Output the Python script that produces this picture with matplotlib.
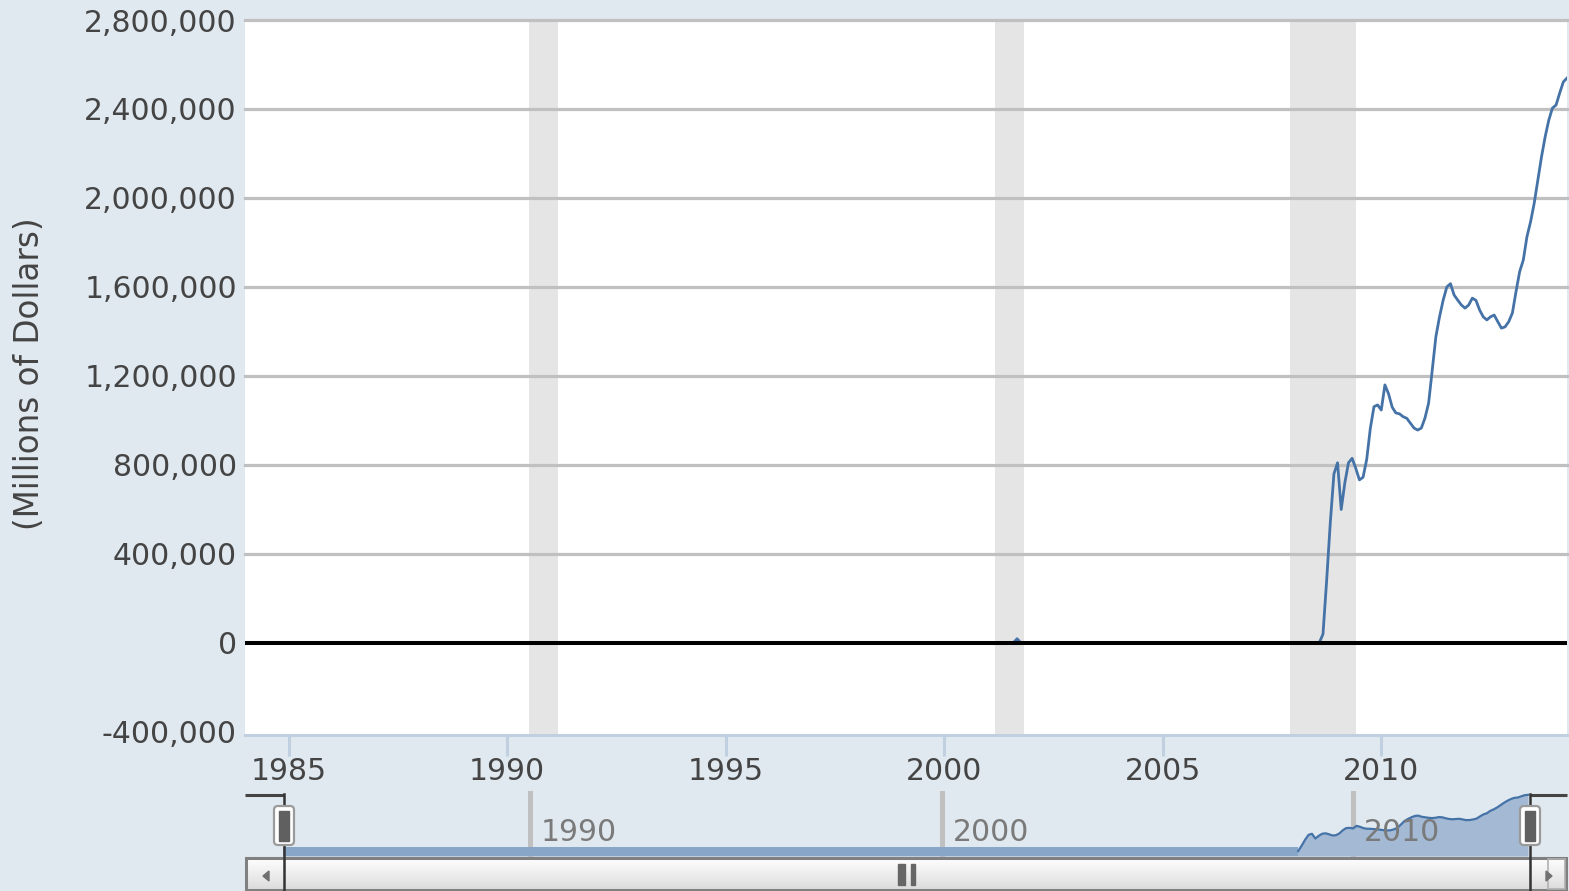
import matplotlib.pyplot as plt
import numpy as np
from matplotlib.patches import Rectangle, FancyBboxPatch, Polygon

# excess reserves, millions of dollars (monthly, first of month)
pre_dates = ['1984-01', '1985-01', '1986-01', '1987-01', '1988-01', '1989-01',
             '1990-01', '1991-01', '1992-01', '1993-01', '1994-01', '1995-01',
             '1996-01', '1997-01', '1998-01', '1999-01', '2000-01', '2001-01',
             '2001-08', '2001-09', '2001-10', '2002-01', '2003-01', '2004-01',
             '2005-01', '2006-01', '2007-01', '2008-01', '2008-08']
pre_vals = [700, 1000, 1200, 1400, 1100, 1000, 1400, 1300, 1100, 1300, 1200, 1000,
            1100, 1300, 1500, 1400, 1500, 1400, 1400, 19000, 1600, 1700, 1800, 1800,
            1600, 1700, 1700, 1800, 1900]

# Sep 2008 .. Apr 2014
crisis_start = '2008-09'
crisis_vals = [
    40000, 280000, 540000, 760000,
    810000, 600000, 720000, 810000, 830000, 785000, 733000, 745000, 825000, 965000, 1062000, 1070000,
    1047000, 1160000, 1120000, 1060000, 1034000, 1030000, 1017000, 1010000, 988000, 966000, 957000, 966000,
    1011000, 1078000, 1227000, 1377000, 1466000, 1541000, 1600000, 1615000, 1564000, 1541000, 1519000, 1505000,
    1519000, 1550000, 1540000, 1497000, 1466000, 1452000, 1466000, 1474000, 1444000, 1415000, 1421000, 1444000,
    1483000, 1579000, 1669000, 1721000, 1826000, 1893000, 1977000, 2081000, 2185000, 2275000, 2350000, 2404000,
    2418000, 2472000, 2522000, 2539000,
]

recessions = [(1990.5, 1991.167), (2001.167, 2001.833), (2007.917, 2009.417)]
year_ticks = [1985, 1990, 1995, 2000, 2005, 2010]
nav_ticks = [1990, 2000, 2010]
y_ticks = list(range(-400000, 2800001, 400000))


def dec_year(s):
    y, m = s.split('-')
    return int(y) + (int(m) - 1) / 12


cy0 = dec_year(crisis_start)
x = np.array([dec_year(d) for d in pre_dates] + [cy0 + i / 12 for i in range(len(crisis_vals))])
v = np.array(pre_vals + crisis_vals, dtype=float)

W, H = 1569, 891
BG = '#e1e9f0'
TXT = '#444444'


def box(x0, y0, x1, y1):
    return [x0 / W, 1 - y1 / H, (x1 - x0) / W, (y1 - y0) / H]


fig = plt.figure(figsize=(W / 100, H / 100), dpi=100)
fig.patch.set_facecolor(BG)

# MAIN PLOT
ax = fig.add_axes(box(245, 20, 1567, 735))
ax.set_facecolor('white')
ax.set_xlim(1984, 2014.25)
ax.set_ylim(-413500, 2800000)
for s in ['top', 'left', 'right']:
    ax.spines[s].set_visible(False)
ax.spines['bottom'].set_color('#c0d0e0')
ax.spines['bottom'].set_linewidth(2.2)

for a, b in recessions:
    ax.axvspan(a, b, color='#e5e5e5', lw=0, zorder=0)
for t in y_ticks:
    if t > -400000 and t != 0:
        ax.axhline(t, color='#c0c0c0', lw=2.3, zorder=1, clip_on=False)
ax.plot(x, v, color='#4572a7', lw=2.0, zorder=3)
ax.axhline(0, color='black', lw=2.9, zorder=4)

ax.set_yticks(y_ticks)
ax.set_yticklabels(['{:,}'.format(t) for t in y_ticks])
ax.set_xticks(year_ticks)
ax.set_xticklabels([str(t) for t in year_ticks])
ax.tick_params(axis='y', length=0, pad=5.8, labelsize=21.5, labelcolor=TXT)
ax.tick_params(axis='x', length=15, width=2.2, color='#c0d0e0', pad=1,
               labelsize=21.5, labelcolor=TXT)

fig.text(30 / W, 1 - 374 / H, '(Millions of Dollars)', rotation=90,
         ha='center', va='center', fontsize=23.5, color=TXT)

# NAVIGATOR
nav = fig.add_axes(box(245, 793, 1566, 856))
nav.set_facecolor('none')
nav.set_xlim(1983.077, 2015.173)
nav_lo = -178000
nav.set_ylim(nav_lo, 2620000)
nav.axis('off')
for t in nav_ticks:
    nav.axvline(t, ymin=-0.05, ymax=1, color='#c0c0c0', lw=3.6, zorder=1, clip_on=False)
nav.fill_between(x, nav_lo, v, color='#a4bad4', lw=0, zorder=2)
nav.fill_between(x, nav_lo, 222000, where=v < 50000, color='#88a6c8', lw=0, zorder=2)
keep = v >= 50000
keep[:-1] |= keep[1:]
nav.plot(x, np.where(keep, v, np.nan), color='#4572a7', lw=1.6, zorder=3)
for t in nav_ticks:
    nav.annotate(str(t), xy=(t, 0.38), xycoords=('data', 'axes fraction'),
                 xytext=(7.9, 0), textcoords='offset points', ha='left', va='center',
                 fontsize=21.5, color='#7a7a7a', zorder=4)

# SCROLLBAR AND HANDLES (pixel overlay)
ui = fig.add_axes([0, 0, 1, 1])
ui.set_xlim(0, W)
ui.set_ylim(H, 0)
ui.axis('off')
ui.patch.set_alpha(0)

grad = np.linspace(1.0, 0.86, 40).reshape(-1, 1)
ui.imshow(grad, cmap='gray', vmin=0, vmax=1, extent=(245, 1567, 890, 857),
          aspect='auto', zorder=1)
ui.add_patch(Rectangle((246, 857.5), 1320, 32, fill=False, ec='#808080', lw=2.2, zorder=2))
ui.add_patch(Rectangle((1548, 859), 17, 30, fill=False, ec='#b0b0b0', lw=1.2, zorder=2))
ui.add_patch(Polygon([(263, 876), (269, 871), (269, 881)], color='#707070', zorder=3))
ui.add_patch(Polygon([(1552, 876), (1546, 871), (1546, 881)], color='#707070', zorder=3))
ui.add_patch(Rectangle((898, 864), 7, 21, color='#666666', zorder=3))
ui.add_patch(Rectangle((911, 864), 3.5, 21, color='#666666', zorder=3))

for hx, side in [(284, 245), (1530, 1567)]:
    ui.plot([side, hx], [794.5, 794.5], color='#444444', lw=2.2, solid_capstyle='butt', zorder=4)
    ui.plot([hx, hx], [794, 891], color='#333333', lw=1.8, zorder=4)
    ui.add_patch(FancyBboxPatch((hx - 10, 806), 20, 39,
                                boxstyle='round,pad=0,rounding_size=4',
                                fc='white', ec='#9a9a9a', lw=1.6, zorder=5))
    ui.add_patch(Rectangle((hx - 5, 811), 10, 30, color='#606060', zorder=6))

fig.savefig('out.png', dpi=100, facecolor=BG)
